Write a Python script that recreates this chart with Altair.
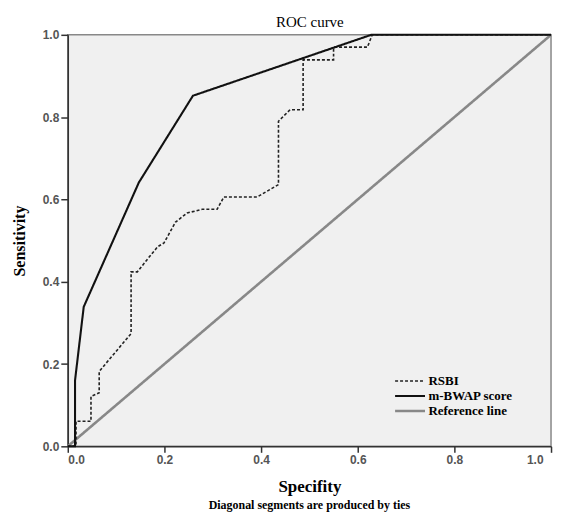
import altair as alt
import pandas as pd

# m-BWAP score ROC points (1 - specificity, sensitivity)
bwap_x = [0.0, 0.015, 0.015, 0.033, 0.147, 0.259, 0.628, 1.0]
bwap_y = [0.0, 0.0, 0.16, 0.339, 0.641, 0.852, 1.0, 1.0]

# RSBI ROC points
rsbi_x = [0.0, 0.017, 0.017, 0.048, 0.048, 0.065, 0.065, 0.131, 0.131, 0.144,
          0.165, 0.186, 0.199, 0.223, 0.247, 0.278, 0.309, 0.323, 0.392, 0.436,
          0.436, 0.46, 0.487, 0.487, 0.55, 0.55, 0.62, 0.63, 1.0]
rsbi_y = [0.0, 0.0, 0.061, 0.061, 0.121, 0.13, 0.182, 0.274, 0.424, 0.424,
          0.455, 0.485, 0.494, 0.545, 0.567, 0.576, 0.576, 0.606, 0.606, 0.636,
          0.79, 0.818, 0.818, 0.939, 0.939, 0.97, 0.97, 1.0, 1.0]

# Reference line
ref_x = [0.0, 1.0]
ref_y = [0.0, 1.0]

series_names = ["RSBI", "m-BWAP score", "Reference line"]
ticks = [0.0, 0.2, 0.4, 0.6, 0.8, 1.0]

rows = []
for name, xs, ys in [("Reference line", ref_x, ref_y), ("RSBI", rsbi_x, rsbi_y),
                     ("m-BWAP score", bwap_x, bwap_y)]:
    for i, (a, b) in enumerate(zip(xs, ys)):
        rows.append({"series": name, "spec": a, "sens": b, "idx": i})
df = pd.DataFrame(rows)

serif = "Liberation Serif"
sans = "Liberation Sans"

x_bottom = alt.X("spec:Q", scale=alt.Scale(domain=[0, 1], nice=False, zero=False),
                 axis=alt.Axis(orient="bottom", values=ticks, format=".1f", title="Specifity",
                               titleFont=serif, titleFontSize=17, titleFontWeight="bold",
                               titleColor="black", titlePadding=13,
                               labelFont=sans, labelFontSize=12, labelFontWeight="bold",
                               labelColor="#555", labelPadding=2,
                               labelOffset={"condition": {"test": "datum.value == 1", "value": -8},
                                            "value": 0},
                               tickSize=6, tickColor="#333", tickWidth=1.5,
                               domainColor="#333", domainWidth=1.5, grid=False))
x_top = alt.X("spec:Q", scale=alt.Scale(domain=[0, 1], nice=False, zero=False),
              axis=alt.Axis(orient="top", title="ROC curve", labels=False, ticks=False,
                            domain=False, grid=False, titleFont=serif, titleFontSize=15,
                            titleFontWeight="normal", titleColor="black", titlePadding=5))
y_enc = alt.Y("sens:Q", scale=alt.Scale(domain=[0, 1], nice=False, zero=False),
              axis=alt.Axis(values=ticks, format=".1f", title="Sensitivity",
                            titleFont=serif, titleFontSize=16, titleFontWeight="bold",
                            titleColor="black", titlePadding=10,
                            labelFont=sans, labelFontSize=12, labelFontWeight="bold",
                            labelColor="#555", labelPadding=2,
                            tickSize=7, tickColor="#333", tickWidth=1.5,
                            domainColor="#333", domainWidth=1.5, grid=False,
                            minExtent=30, maxExtent=30))

legend = alt.Legend(title=None, orient="none", legendX=327, legendY=340,
                    symbolType="stroke", symbolSize=900, clipHeight=15, labelFont=serif,
                    labelFontSize=13, labelFontWeight="bold", labelColor="black",
                    rowPadding=0, labelOffset=2)

enc = dict(
    y=y_enc,
    order=alt.Order("idx:Q"),
    color=alt.Color("series:N", scale=alt.Scale(domain=series_names,
                    range=["#222", "#111", "#888"]), legend=legend),
    strokeDash=alt.StrokeDash("series:N", scale=alt.Scale(domain=series_names,
                    range=[[3, 2], [1, 0], [1, 0]]), legend=legend),
    strokeWidth=alt.StrokeWidth("series:N", scale=alt.Scale(domain=series_names,
                    range=[1.6, 2.6, 1.0]), legend=legend),
)

ref_layer = alt.Chart(df[df.series == "Reference line"]).mark_line().encode(x=x_top, **enc)
main_layer = alt.Chart(df[df.series != "Reference line"]).mark_line().encode(x=x_bottom, **enc)

bottom_note = alt.TitleParams("Diagonal segments are produced by ties", orient="bottom",
                              font=serif, fontSize=12, fontWeight="bold", color="black",
                              offset=6)

chart = alt.layer(ref_layer, main_layer).resolve_axis(x="independent").properties(
    width=485, height=413, title=bottom_note,
    padding={"left": 4, "top": 6, "right": 0, "bottom": 0}
).configure_view(fill="#f0f0f0", stroke="#888", strokeWidth=1.5)

chart.save("out.html", embed_options={"renderer": "svg", "actions": False})
